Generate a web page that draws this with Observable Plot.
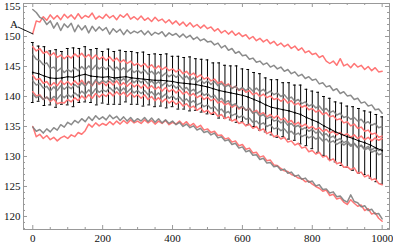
<!DOCTYPE html>
<html><head><meta charset="utf-8">
<script src="https://cdn.jsdelivr.net/npm/d3@7"></script>
<script src="https://cdn.jsdelivr.net/npm/@observablehq/plot@0.6"></script>
<style>body{margin:0;background:#fff}</style>
</head><body><div id="chart"></div>
<script>
// sampling step of the noisy series (x = index * step)
const xStep = 10;

const redTop = [150.5,152.6,152.4,153.3,152.7,153.6,152.9,153.5,152.8,153.7,153.1,
153.6,152.9,153.8,153.0,153.5,153.2,153.9,152.9,153.4,153.0,
153.7,153.1,153.5,152.8,153.6,153.2,153.8,152.9,153.3,152.8,
153.4,152.7,153.1,152.5,153.2,152.6,152.9,152.3,152.8,152.1,
152.6,151.9,152.4,151.7,152.3,151.6,152.0,151.4,151.9,151.3,
151.6,150.9,151.3,150.6,151.0,150.4,150.9,150.2,150.6,150.0,
150.3,149.6,150.0,149.3,149.7,149.1,149.5,148.8,149.2,148.5,
148.9,148.3,148.7,148.0,148.4,147.7,148.1,147.3,147.6,147.0,
147.2,146.5,146.8,145.9,145.5,145.9,145.2,146.3,145.1,145.4,
144.8,145.5,144.9,145.2,144.5,145.0,144.3,144.8,144.1,144.2];

const grayTop = [154.5,154.0,153.2,152.9,152.0,152.6,151.4,152.3,151.0,152.1,151.5,
152.2,150.8,151.9,151.1,151.8,150.6,151.7,150.9,151.6,151.0,
151.5,150.4,151.3,150.7,151.2,150.3,151.1,150.5,150.9,150.6,
151.0,150.3,150.9,150.2,150.7,150.4,150.8,150.0,150.6,150.2,
150.5,149.9,150.4,149.8,150.2,149.5,149.9,149.3,149.6,149.1,
149.2,148.6,148.9,148.1,148.5,147.7,148.0,147.2,147.5,146.8,
146.9,146.2,146.4,145.7,145.9,145.3,145.6,144.9,145.2,144.6,
144.9,144.2,144.5,143.8,144.1,143.4,143.7,143.0,143.3,142.7,
142.9,142.1,142.3,141.6,141.8,141.0,141.3,140.5,140.8,140.1,
140.2,139.5,139.7,138.9,139.1,138.4,138.6,137.8,137.9,137.2];

const grayBottom = [134.9,134.2,134.5,133.9,134.6,134.1,134.8,134.4,135.3,134.9,135.7,
135.3,136.0,135.6,136.3,135.8,136.6,136.0,136.8,136.2,136.6,
136.1,136.9,136.3,136.7,136.0,136.6,135.9,136.5,135.8,136.3,
135.9,136.5,135.8,136.4,135.7,136.3,135.6,136.1,135.5,135.9,
135.3,135.7,135.0,135.4,134.8,135.1,134.4,134.7,134.0,134.2,
133.6,133.9,133.1,133.3,132.6,132.8,132.0,132.2,131.4,131.6,
130.8,131.0,130.2,130.3,129.5,129.7,128.9,129.0,128.3,128.4,
127.7,127.9,127.2,127.4,126.7,126.9,126.2,126.4,125.7,125.9,
125.1,125.3,124.5,124.6,123.9,124.1,123.3,123.4,122.7,122.4,
123.6,122.5,122.3,121.6,121.8,121.0,121.2,120.4,120.5,119.6];

const redBottom = [135.0,133.3,133.7,133.0,133.5,132.8,133.2,132.6,133.1,133.4,133.0,
133.6,133.3,134.0,133.7,134.3,135.4,134.9,135.6,135.1,135.5,
135.2,135.8,135.3,135.9,135.4,136.0,135.5,136.1,135.6,135.9,
135.5,136.1,135.6,136.0,135.4,135.9,135.5,136.0,135.3,135.7,
135.4,135.9,135.3,135.8,135.1,135.5,134.8,135.2,134.4,134.6,
134.0,134.2,133.5,133.6,132.9,133.1,132.4,132.6,131.8,132.0,
131.2,131.4,130.6,130.7,129.9,130.1,129.3,129.4,128.6,128.5,
128.0,127.6,127.5,127.0,126.8,126.4,126.3,125.8,125.9,125.4,
125.0,124.7,124.2,124.4,123.5,123.7,122.9,123.1,122.4,122.0,
122.8,122.2,121.7,121.9,121.0,121.3,120.4,120.6,119.7,119.2];

const redMid1 = [148.3,147.6,148.0,147.2,147.5,146.8,147.3,146.5,146.9,146.3,146.8,
146.4,147.1,146.6,147.2,146.5,147.0,146.3,146.9,146.2,146.6,
146.0,146.6,145.9,146.4,145.7,146.1,145.5,145.9,145.2,145.5,
145.0,145.5,144.8,145.3,144.6,145.1,144.5,144.9,144.3,144.6,
144.1,144.5,143.8,144.2,143.5,143.9,143.2,143.6,142.9,143.2,
142.6,142.9,142.2,142.5,141.8,142.1,141.4,141.7,141.0,141.3,
140.7,141.0,140.3,140.6,140.0,140.4,139.8,140.1,139.5,139.7,
139.2,139.6,138.9,139.3,138.6,138.9,138.2,138.5,137.8,138.0,
137.4,137.7,137.0,137.3,136.6,136.8,136.1,136.3,135.6,135.8,
135.1,135.4,134.7,134.9,134.2,134.4,133.7,133.9,133.2,133.4];

const grayMid1 = [147.0,146.2,146.0,145.3,145.6,144.7,144.9,144.2,144.7,144.0,144.5,
144.1,144.8,144.3,145.0,144.4,145.1,144.5,145.2,144.6,145.0,
144.5,145.1,144.4,144.9,144.3,144.8,144.1,144.6,144.0,144.4,
143.9,144.4,143.7,144.2,143.6,144.1,143.4,143.9,143.3,143.7,
143.2,143.6,142.9,143.4,142.7,143.1,142.4,142.8,142.2,142.6,
142.0,142.5,141.8,142.2,141.6,141.9,141.3,141.7,141.1,141.5,
141.0,141.5,140.9,141.4,140.8,141.2,140.5,140.9,140.3,140.6,
140.0,140.3,139.6,139.9,139.2,139.5,138.8,139.1,138.4,138.7,
138.1,138.4,137.7,138.0,137.3,137.6,136.9,137.2,136.5,136.7,
136.2,136.5,135.9,136.2,135.5,135.8,135.2,135.5,134.8,135.0];

const redMid2 = [143.5,142.8,143.0,142.2,142.5,141.7,142.3,141.8,142.6,142.0,142.5,
141.9,142.6,142.0,142.7,141.9,142.5,141.8,142.6,142.0,142.4,
141.8,142.5,141.9,142.6,141.8,142.3,141.7,142.3,141.6,142.0,
141.4,142.0,141.3,141.8,141.2,141.6,140.9,141.5,140.8,141.2,
140.6,141.1,140.4,140.8,140.1,140.5,139.8,140.2,139.5,139.9,
139.3,139.6,138.9,139.2,138.6,138.9,138.2,138.6,137.9,138.3,
137.7,138.0,137.3,137.7,137.0,137.3,136.6,137.0,136.4,136.8,
136.1,136.4,135.7,136.0,135.3,135.7,135.0,135.4,134.7,135.0,
134.5,134.8,134.2,134.5,133.9,134.2,133.6,134.0,133.5,133.8,
133.2,133.6,133.0,133.4,132.8,133.2,132.6,133.1,132.7,133.0];

const grayMid2 = [142.6,141.9,142.2,141.4,141.7,140.9,141.6,141.0,141.8,141.2,141.7,
141.3,142.0,141.5,142.3,141.7,142.5,141.9,142.8,142.2,142.7,
142.3,143.0,142.4,143.1,142.5,143.0,142.4,143.0,142.3,142.8,
142.3,142.8,142.1,142.6,142.0,142.5,141.8,142.3,141.7,142.0,
141.4,141.8,141.1,141.5,140.8,141.2,140.5,140.9,140.2,140.5,
139.9,140.2,139.4,139.7,139.0,139.3,138.5,138.8,138.1,138.4,
137.7,138.0,137.2,137.4,136.7,137.0,136.3,136.6,135.9,136.1,
135.6,135.9,135.2,135.5,134.9,135.2,134.5,134.8,134.2,134.5,
133.9,134.2,133.5,133.8,133.1,133.4,132.7,133.0,132.3,132.6,
131.9,132.2,131.5,131.8,131.1,131.4,130.7,131.0,130.3,130.5];

const redMid3 = [140.8,140.1,140.3,139.5,139.9,139.2,139.6,138.8,139.0,138.9,139.5,
139.1,139.8,139.3,140.1,139.6,140.3,139.7,140.5,139.9,140.4,
140.0,140.7,140.1,140.8,140.2,140.7,140.0,140.6,139.9,140.3,
139.7,140.3,139.5,140.0,139.3,139.8,139.1,139.6,138.9,139.3,
138.7,139.1,138.4,138.8,138.1,138.4,137.7,138.1,137.4,137.7,
137.1,137.4,136.7,137.0,136.3,136.6,135.9,136.2,135.5,135.7,
135.1,135.4,134.7,135.0,134.3,134.6,133.8,134.1,133.3,133.5,
132.9,133.2,132.4,132.6,131.9,132.2,131.4,131.6,130.8,131.0,
130.4,130.7,129.9,130.1,129.3,129.6,128.8,129.0,128.2,128.3,
127.8,128.1,127.2,127.4,126.6,126.9,126.1,126.3,125.5,125.3];

const grayMid3 = [140.4,139.8,140.1,139.5,139.9,139.4,140.0,139.6,140.3,139.8,140.3,
139.9,140.6,140.1,140.9,140.4,141.1,140.5,141.3,140.7,141.1,
140.8,141.5,140.9,141.5,140.8,141.4,140.7,141.3,140.6,141.0,
140.5,141.0,140.3,140.8,140.1,140.6,139.9,140.4,139.7,140.1,
139.5,139.9,139.2,139.6,138.9,139.3,138.6,138.9,138.3,138.6,
138.0,138.3,137.6,137.9,137.2,137.5,136.8,137.1,136.5,136.8,
136.2,136.4,135.7,135.9,135.3,135.6,135.0,135.3,134.6,134.8,
134.3,134.6,133.9,134.2,133.6,133.9,133.3,133.6,133.1,133.4,
132.9,133.2,132.6,132.9,132.3,132.6,132.0,132.4,131.9,132.3,
131.7,132.1,131.5,131.9,131.3,131.7,131.1,131.5,131.0,131.3];

// mean with error bars, 61 samples across 0..1000
const barCount = 61;
const meanVals = [144.0,143.8,143.4,143.1,143.0,143.1,143.3,143.2,143.5,143.7,
143.4,143.3,143.2,143.3,143.1,143.2,143.3,143.1,143.0,142.9,
142.8,142.7,142.7,142.6,142.5,142.3,142.2,142.1,142.0,141.8,
141.6,141.3,141.0,140.8,140.6,140.4,140.2,139.9,139.5,139.1,
138.6,138.2,138.0,137.8,137.6,137.3,137.0,136.5,136.1,135.7,
135.1,134.6,134.1,133.7,133.3,133.0,132.6,132.3,131.9,131.4,
131.0];
const errVals = [5.0,4.6,4.9,4.5,4.8,4.4,4.7,4.9,4.5,4.6,
4.4,4.7,4.3,4.6,4.4,4.5,4.2,4.4,4.3,4.5,
4.2,4.4,4.3,4.5,4.2,4.4,4.3,4.5,4.3,4.4,
4.5,4.3,4.6,4.4,4.5,4.7,4.4,4.6,4.5,4.7,
4.5,4.6,4.8,4.5,4.7,4.6,4.9,4.7,4.8,5.0,
4.9,5.1,5.0,5.2,5.1,5.3,5.4,5.3,5.5,5.6,
5.6];

const xTickLabels = [0, 200, 400, 600, 800, 1000];
const yTickLabels = [120, 125, 130, 135, 140, 145, 150, 155];

// annotation "A" pointing at the start of the top red series
const annoLabel = [{x: -54, y: 152.0, text: "A"}];
const annoLine = [{x1: -43, y1: 151.6, x2: 1.4, y2: 150.4}];

const redColor = "#ff7676";
const grayColor = "#7e7e7e";

const series = [
  {name: "redTop", kind: "red", values: redTop},
  {name: "redMid1", kind: "red", values: redMid1},
  {name: "redMid2", kind: "red", values: redMid2},
  {name: "redMid3", kind: "red", values: redMid3},
  {name: "redBottom", kind: "red", values: redBottom},
  {name: "grayTop", kind: "gray", values: grayTop},
  {name: "grayMid1", kind: "gray", values: grayMid1},
  {name: "grayMid2", kind: "gray", values: grayMid2},
  {name: "grayMid3", kind: "gray", values: grayMid3},
  {name: "grayBottom", kind: "gray", values: grayBottom}
];
const rows = series.flatMap(s => s.values.map((v, i) => ({series: s.name, kind: s.kind, x: i * xStep, y: v})));
const bars = meanVals.map((m, i) => ({x: i * 1000 / (barCount - 1), m, e: errVals[i]}));

const W = 393, H = 245;
const mT = 3, mB = 16, mL = 23, mR = 4;
const innerH = H - mT - mB, innerW = W - mL - mR;
const xMinor = d3.range(0, 1001, 50).filter(v => v % 200 !== 0);
const yMinor = d3.range(118, 156, 1).filter(v => v % 5 !== 0);
const tickColor = "#999";
const capHalf = 4;

const chart = Plot.plot({
  width: W, height: H,
  marginTop: mT, marginBottom: mB, marginLeft: mL, marginRight: mR,
  style: {fontFamily: "'Liberation Serif', 'DejaVu Serif', serif", fontSize: "11px", background: "#fff"},
  x: {domain: [-26.6, 1021]},
  y: {domain: [117.83, 155.5]},
  marks: [
    // error bars
    Plot.ruleX(bars, {x: "x", y1: d => d.m - d.e, y2: d => d.m + d.e, stroke: "#000", strokeWidth: 1}),
    Plot.ruleY(bars, {y: d => d.m + d.e, x1: d => d.x - capHalf, x2: d => d.x + capHalf, stroke: "#000", strokeWidth: 1}),
    Plot.ruleY(bars, {y: d => d.m - d.e, x1: d => d.x - capHalf, x2: d => d.x + capHalf, stroke: "#000", strokeWidth: 1}),
    // series
    Plot.line(rows.filter(d => d.kind === "red"), {x: "x", y: "y", z: "series", stroke: redColor, strokeWidth: 1.5}),
    Plot.line(rows.filter(d => d.kind === "gray"), {x: "x", y: "y", z: "series", stroke: grayColor, strokeWidth: 1.5, strokeOpacity: 0.9}),
    // mean
    Plot.line(bars, {x: "x", y: "m", stroke: "#000", strokeWidth: 1}),
    Plot.dot(bars, {x: "x", y: "m", r: 0.9, fill: "#000"}),
    // frame and inward ticks
    Plot.frame({stroke: tickColor}),
    Plot.tickX(xTickLabels, {x: d => d, insetTop: innerH - 4, stroke: tickColor}),
    Plot.tickX(xMinor, {x: d => d, insetTop: innerH - 2, stroke: tickColor}),
    Plot.tickX(xTickLabels, {x: d => d, insetBottom: innerH - 4, stroke: tickColor}),
    Plot.tickX(xMinor, {x: d => d, insetBottom: innerH - 2, stroke: tickColor}),
    Plot.tickY(yTickLabels, {y: d => d, insetRight: innerW - 4, stroke: tickColor}),
    Plot.tickY(yMinor, {y: d => d, insetRight: innerW - 2, stroke: tickColor}),
    Plot.tickY(yTickLabels, {y: d => d, insetLeft: innerW - 4, stroke: tickColor}),
    Plot.tickY(yMinor, {y: d => d, insetLeft: innerW - 2, stroke: tickColor}),
    Plot.axisX({ticks: xTickLabels, tickSize: 0, tickPadding: 5, tickFormat: d => String(d), label: null, fill: "#111", fontSize: 11}),
    Plot.axisY({ticks: yTickLabels, tickSize: 0, tickPadding: 3, tickFormat: d => String(d), label: null, fill: "#111", fontSize: 11}),
    // annotation
    Plot.link(annoLine, {x1: "x1", y1: "y1", x2: "x2", y2: "y2", stroke: "#000", strokeWidth: 0.9}),
    Plot.text(annoLabel, {x: "x", y: "y", text: "text", fill: "#111", fontSize: 11})
  ]
});
document.getElementById("chart").appendChild(chart);
</script>
</body></html>
